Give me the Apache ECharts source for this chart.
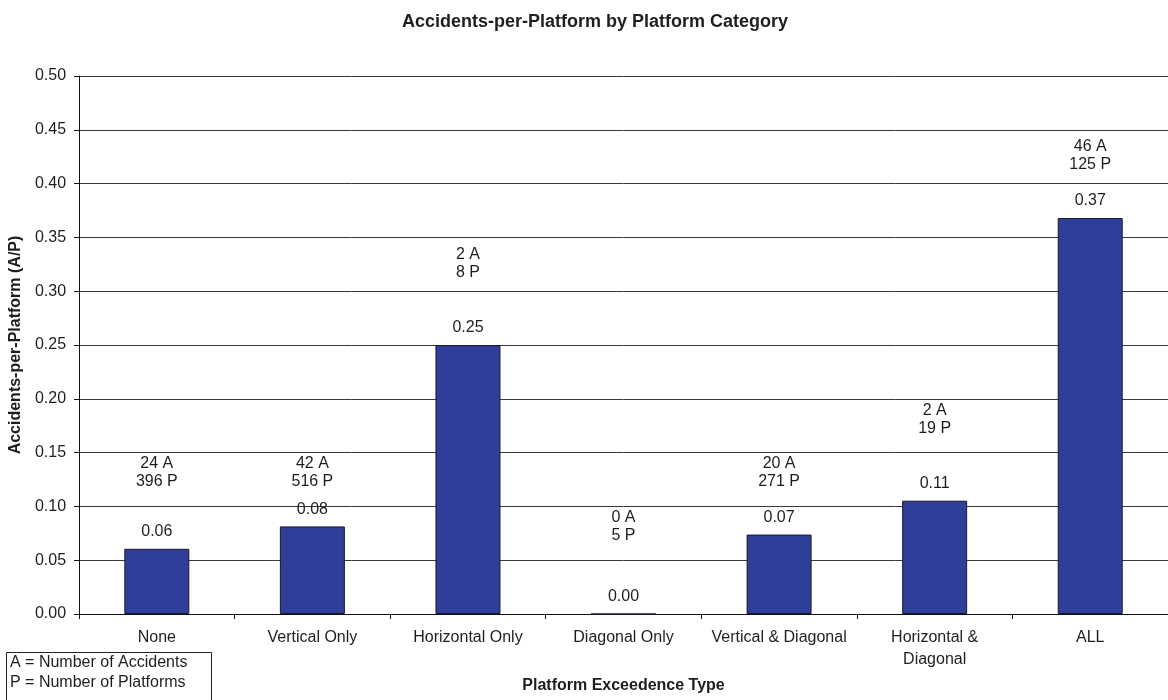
<!DOCTYPE html>
<html>
<head>
<meta charset="utf-8">
<script src="https://cdn.jsdelivr.net/npm/echarts@6/dist/echarts.min.js"></script>
<style>
  html, body { margin: 0; padding: 0; background: #fff; }
  #chart { width: 1168px; height: 700px; }
</style>
</head>
<body>
<div id="chart"></div>
<script>
// Platform exceedence categories and their accident rates
const categories = ['None', 'Vertical Only', 'Horizontal Only', 'Diagonal Only',
                    'Vertical & Diagonal', 'Horizontal &\nDiagonal', 'ALL'];
const accidentsPerPlatform = [0.0606, 0.0814, 0.25, 0.0, 0.0738, 0.1053, 0.368];
const accidentCounts = [24, 42, 2, 0, 20, 2, 46];
const platformCounts = [396, 516, 8, 5, 271, 19, 125];
const yTicks = { min: 0, max: 0.5, interval: 0.05 };

// Height (in A/P units) at which each "A / P" note is centred
const noteLevels = [0.131, 0.131, 0.326, 0.081, 0.131, 0.181, 0.426];

const FONT = '"Liberation Sans", Arial, sans-serif';
const INK = '#1e1e1e';

const chart = echarts.init(document.getElementById('chart'), null, { renderer: 'canvas' });

chart.setOption({
  animation: false,
  backgroundColor: '#ffffff',
  title: {
    text: 'Accidents-per-Platform by Platform Category',
    left: 590,
    top: 8,
    textAlign: 'center',
    textStyle: { fontFamily: FONT, fontSize: 18, fontWeight: 'bold', color: INK }
  },
  grid: { left: 79, top: 76, width: 1099, height: 538 },
  xAxis: {
    type: 'category',
    data: categories,
    boundaryGap: true,
    name: 'Platform Exceedence Type',
    nameLocation: 'middle',
    nameGap: 64,
    nameTextStyle: { fontFamily: FONT, fontSize: 16, fontWeight: 'bold', color: INK },
    axisLine: { lineStyle: { color: '#111', width: 1 } },
    axisTick: { show: true, length: 5, lineStyle: { color: '#111' } },
    axisLabel: {
      fontFamily: FONT, fontSize: 16, color: INK, margin: 13, lineHeight: 22,
      interval: 0
    },
    splitLine: { show: false }
  },
  yAxis: {
    type: 'value',
    min: yTicks.min,
    max: yTicks.max,
    interval: yTicks.interval,
    name: 'Accidents-per-Platform (A/P)',
    nameLocation: 'middle',
    nameGap: 50,
    nameRotate: 90,
    nameTextStyle: { fontFamily: FONT, fontSize: 16, fontWeight: 'bold', color: INK },
    axisLine: { show: true, lineStyle: { color: '#111', width: 1 } },
    axisTick: { show: true, length: 5, lineStyle: { color: '#111' } },
    axisLabel: {
      fontFamily: FONT, fontSize: 16, color: INK, margin: 13,
      formatter: v => v.toFixed(2)
    },
    splitLine: { show: true, lineStyle: { color: '#3a3a3a', width: 1 } }
  },
  series: [
    {
      name: 'A/P',
      type: 'bar',
      data: accidentsPerPlatform,
      barWidth: 65,
      itemStyle: { color: '#2f3e98', borderColor: '#1a1a2e', borderWidth: 1 },
      label: {
        show: true,
        position: 'top',
        distance: 9,
        fontFamily: FONT,
        fontSize: 16,
        color: INK,
        formatter: p => p.value.toFixed(2)
      },
      z: 3
    },
    {
      name: 'notes',
      type: 'scatter',
      data: noteLevels.map((lvl, i) => [i, lvl]),
      symbolSize: 1,
      itemStyle: { color: 'rgba(0,0,0,0)', opacity: 1 },
      silent: true,
      label: {
        show: true,
        position: 'inside',
        fontFamily: FONT,
        fontSize: 16,
        lineHeight: 18,
        color: INK,
        align: 'center',
        verticalAlign: 'middle',
        formatter: p => accidentCounts[p.dataIndex] + ' A\n' + platformCounts[p.dataIndex] + ' P'
      },
      z: 4
    }
  ],
  graphic: [
    {
      type: 'rect',
      left: 6, top: 652,
      shape: { width: 205, height: 60 },
      style: { fill: '#fff', stroke: '#222', lineWidth: 1 },
      z: 10
    },
    {
      type: 'text',
      left: 10, top: 653,
      style: {
        text: 'A = Number of Accidents\nP = Number of Platforms',
        font: '16px ' + FONT,
        lineHeight: 20,
        fill: INK
      },
      z: 11
    }
  ]
});
</script>
</body>
</html>
